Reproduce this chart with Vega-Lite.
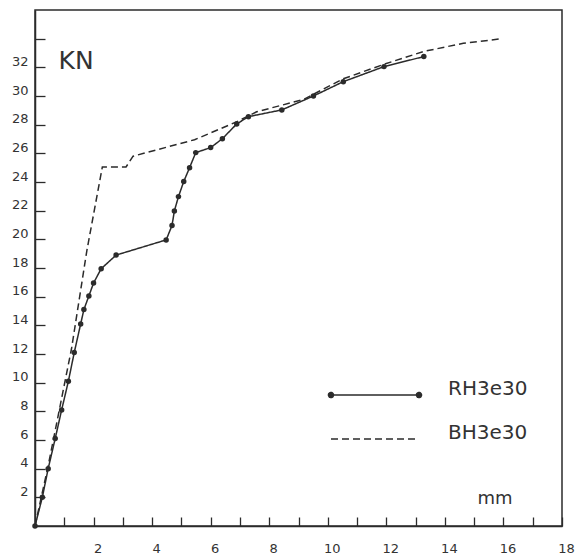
{
  "$schema": "https://vega.github.io/schema/vega-lite/v6.json",
  "width": 527,
  "height": 516,
  "autosize": {"type": "none"},
  "padding": {"left": 35, "top": 10, "right": 19, "bottom": 28},
  "background": "white",
  "config": {
    "view": {"stroke": "#2b2b2b", "strokeWidth": 1.5},
    "font": "DejaVu Sans",
    "axis": {"labelOverlap": false, "labelFlush": false}
  },
  "data": {"values": [
    {"series": "RH3e30", "x": 0, "y": 0},
    {"series": "RH3e30", "x": 0.25, "y": 2.0},
    {"series": "RH3e30", "x": 0.45, "y": 4.0},
    {"series": "RH3e30", "x": 0.69, "y": 6.1},
    {"series": "RH3e30", "x": 0.91, "y": 8.1},
    {"series": "RH3e30", "x": 1.14, "y": 10.1},
    {"series": "RH3e30", "x": 1.34, "y": 12.1},
    {"series": "RH3e30", "x": 1.56, "y": 14.1},
    {"series": "RH3e30", "x": 1.67, "y": 15.1},
    {"series": "RH3e30", "x": 1.84, "y": 16.05},
    {"series": "RH3e30", "x": 2.0, "y": 16.95},
    {"series": "RH3e30", "x": 2.26, "y": 17.95},
    {"series": "RH3e30", "x": 2.77, "y": 18.9},
    {"series": "RH3e30", "x": 4.48, "y": 19.96},
    {"series": "RH3e30", "x": 4.68, "y": 20.97},
    {"series": "RH3e30", "x": 4.76, "y": 21.98},
    {"series": "RH3e30", "x": 4.9, "y": 22.98},
    {"series": "RH3e30", "x": 5.08, "y": 24.03},
    {"series": "RH3e30", "x": 5.28, "y": 25.0},
    {"series": "RH3e30", "x": 5.49, "y": 26.05},
    {"series": "RH3e30", "x": 6.0, "y": 26.4},
    {"series": "RH3e30", "x": 6.4, "y": 27.02},
    {"series": "RH3e30", "x": 6.89, "y": 28.05},
    {"series": "RH3e30", "x": 7.29, "y": 28.56},
    {"series": "RH3e30", "x": 8.43, "y": 29.03},
    {"series": "RH3e30", "x": 9.51, "y": 30.0},
    {"series": "RH3e30", "x": 10.53, "y": 31.0},
    {"series": "RH3e30", "x": 11.92, "y": 32.05},
    {"series": "RH3e30", "x": 13.28, "y": 32.75},
    {"series": "BH3e30", "x": 0, "y": 0},
    {"series": "BH3e30", "x": 0.45, "y": 4.2},
    {"series": "BH3e30", "x": 0.85, "y": 8.3},
    {"series": "BH3e30", "x": 1.25, "y": 12.4},
    {"series": "BH3e30", "x": 1.77, "y": 19.2},
    {"series": "BH3e30", "x": 2.3, "y": 25.05},
    {"series": "BH3e30", "x": 3.11, "y": 25.05},
    {"series": "BH3e30", "x": 3.35, "y": 25.8},
    {"series": "BH3e30", "x": 5.45, "y": 26.95},
    {"series": "BH3e30", "x": 6.89, "y": 28.2},
    {"series": "BH3e30", "x": 7.57, "y": 28.9},
    {"series": "BH3e30", "x": 9.16, "y": 29.75},
    {"series": "BH3e30", "x": 10.53, "y": 31.2},
    {"series": "BH3e30", "x": 11.9, "y": 32.2},
    {"series": "BH3e30", "x": 13.26, "y": 33.1},
    {"series": "BH3e30", "x": 14.63, "y": 33.68},
    {"series": "BH3e30", "x": 15.88, "y": 33.98}
  ]},
  "encoding": {
    "x": {
      "field": "x", "type": "quantitative",
      "scale": {"domain": [0, 18], "nice": false},
      "axis": {
        "values": [1,2,3,4,5,6,7,8,9,10,11,12,13,14,15,16,17,18],
        "labelExpr": "datum.value % 2 === 0 ? datum.label : ''",
        "tickSize": -9, "labelPadding": 25, "labelOffset": 4,
        "labelFontSize": 13, "labelColor": "#333", "labelOverlap": false, "labelFlush": false,
        "tickColor": "#2b2b2b", "tickWidth": 1.3, "domainColor": "#2b2b2b", "domainWidth": 1.5, "grid": false,
        "title": "mm", "titleX": 442, "titleY": -23, "titleAlign": "left", "titleBaseline": "alphabetic",
        "titleFontSize": 18, "titleFontWeight": "normal", "titleColor": "#333"
      }
    },
    "y": {
      "field": "y", "type": "quantitative",
      "scale": {"domain": [0, 36], "nice": false},
      "axis": {
        "values": [2,4,6,8,10,12,14,16,18,20,22,24,26,28,30,32,34],
        "labelExpr": "datum.value <= 32 ? datum.label : ''",
        "tickSize": -10, "labelPadding": 17, "labelOffset": -6,
        "labelFontSize": 13, "labelColor": "#333", "labelOverlap": false, "labelFlush": false,
        "tickColor": "#2b2b2b", "tickWidth": 1.3, "domainColor": "#2b2b2b", "domainWidth": 1.5, "grid": false,
        "title": "KN", "titleAngle": 0, "titleX": 23, "titleY": 58, "titleAlign": "left", "titleBaseline": "alphabetic",
        "titleFontSize": 25, "titleFontWeight": "normal", "titleColor": "#333"
      }
    }
  },
  "layer": [
    {
      "mark": {"type": "line", "color": "#2b2b2b", "strokeWidth": 1.5},
      "encoding": {
        "strokeDash": {
          "field": "series", "type": "nominal",
          "scale": {"domain": ["RH3e30", "BH3e30"], "range": [[1, 0], [7, 4]]},
          "legend": {
            "orient": "none", "legendX": 328, "legendY": 373, "title": null, "padding": 0,
            "symbolType": "M-4,0L4,0", "symbolSize": 484, "symbolStrokeWidth": 1.5,
            "symbolStrokeColor": "#2b2b2b", "symbolFillColor": "#2b2b2b",
            "labelFont": "DejaVu Sans", "labelFontSize": 20, "labelColor": "#333",
            "labelOffset": 61, "rowPadding": 22,
            "encode": {
              "symbols": {"update": {
                "shape": {"signal": "datum.value === 'RH3e30' ? 'M-4,0L4,0M-4.23,0a0.23,0.23 0 1,0 0.46,0a0.23,0.23 0 1,0 -0.46,0M3.77,0a0.23,0.23 0 1,0 0.46,0a0.23,0.23 0 1,0 -0.46,0' : 'M-4,0L4,0'"},
                "fill": {"value": "#2b2b2b"},
                "stroke": {"value": "#2b2b2b"},
                "strokeWidth": {"value": 1.5}
              }},
              "labels": {"update": {"dy": {"value": -6}}}
            }
          }
        }
      }
    },
    {
      "transform": [{"filter": "datum.series === 'RH3e30'"}],
      "mark": {"type": "point", "filled": true, "size": 30, "color": "#2b2b2b", "opacity": 1}
    }
  ]
}
